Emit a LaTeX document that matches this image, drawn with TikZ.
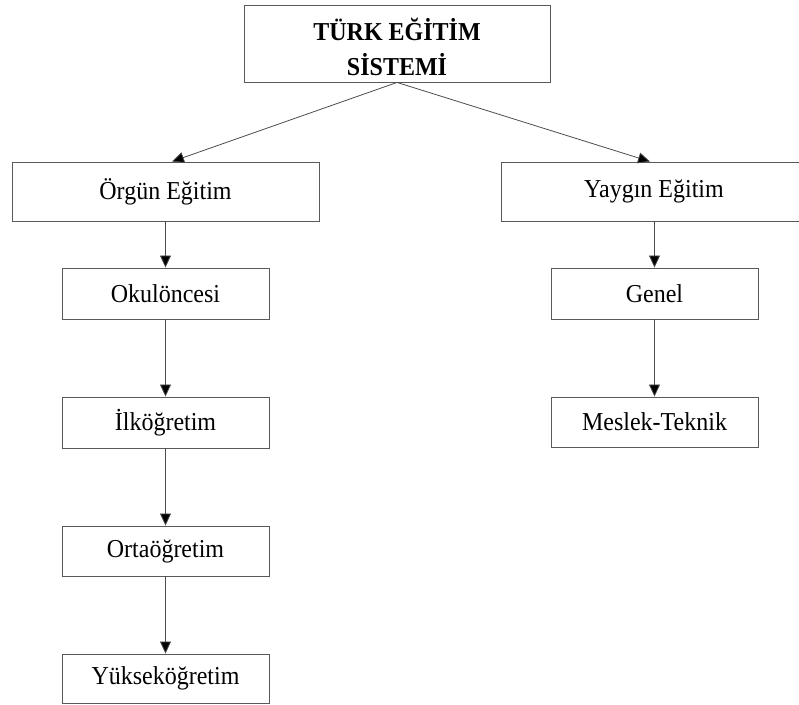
\documentclass[tikz,border=0pt]{standalone}
\usepackage{fontspec}
\setmainfont[FakeStretch=0.93]{Liberation Serif}
\usetikzlibrary{arrows.meta,calc}
\begin{document}
\begin{tikzpicture}[x=1pt,y=-1pt,
  box/.style={draw=black!65,line width=0.9pt,rectangle,inner sep=0pt,font=\fontsize{25.8}{30}\selectfont},
  conn/.style={draw=black!70,line width=0.8pt,-{Triangle[length=12pt,width=11pt,fill=black]}}]
\clip (0,0) rectangle (799,704);
\useasboundingbox (0,0) rectangle (799,704);
\node[box,minimum width=306pt,minimum height=77pt] (top) at (397,43.5) {};
\node[align=center,inner sep=0pt,font=\fontsize{25.8}{35}\selectfont\bfseries] (toptext) at ($(top.center)+(0,3)$) {TÜRK EĞİTİM\\SİSTEMİ};
\node[box,minimum width=307pt,minimum height=59pt] (org) at (165.5,191.5) {Örgün Eğitim};
\node[box,minimum width=306pt,minimum height=59pt] (yay) at (654,191.5) {Yaygın Eğitim};
\node[box,minimum width=207pt,minimum height=51pt] (oku) at (165.5,293.5) {Okulöncesi};
\node[box,minimum width=207pt,minimum height=51pt] (ilk) at (165.5,422.5) {İlköğretim};
\node[box,minimum width=207pt,minimum height=50pt] (ort) at (165.5,551) {Ortaöğretim};
\node[box,minimum width=207pt,minimum height=49pt] (yuk) at (165.5,678.5) {Yükseköğretim};
\node[box,minimum width=207pt,minimum height=51pt] (gen) at (654.5,293.5) {Genel};
\node[box,minimum width=207pt,minimum height=50pt] (mes) at (654.5,422) {Meslek-Teknik};
\draw[conn] (top.south) -- ($(org.north)+(6.5,0)$);
\draw[conn] (top.south) -- ($(yay.north)+(-4,0)$);
\draw[conn] (org.south) -- (oku.north);
\draw[conn] (oku.south) -- (ilk.north);
\draw[conn] (ilk.south) -- (ort.north);
\draw[conn] (ort.south) -- (yuk.north);
\draw[conn] (yay.south -| gen.north) -- (gen.north);
\draw[conn] (gen.south) -- (mes.north);
\end{tikzpicture}
\end{document}
